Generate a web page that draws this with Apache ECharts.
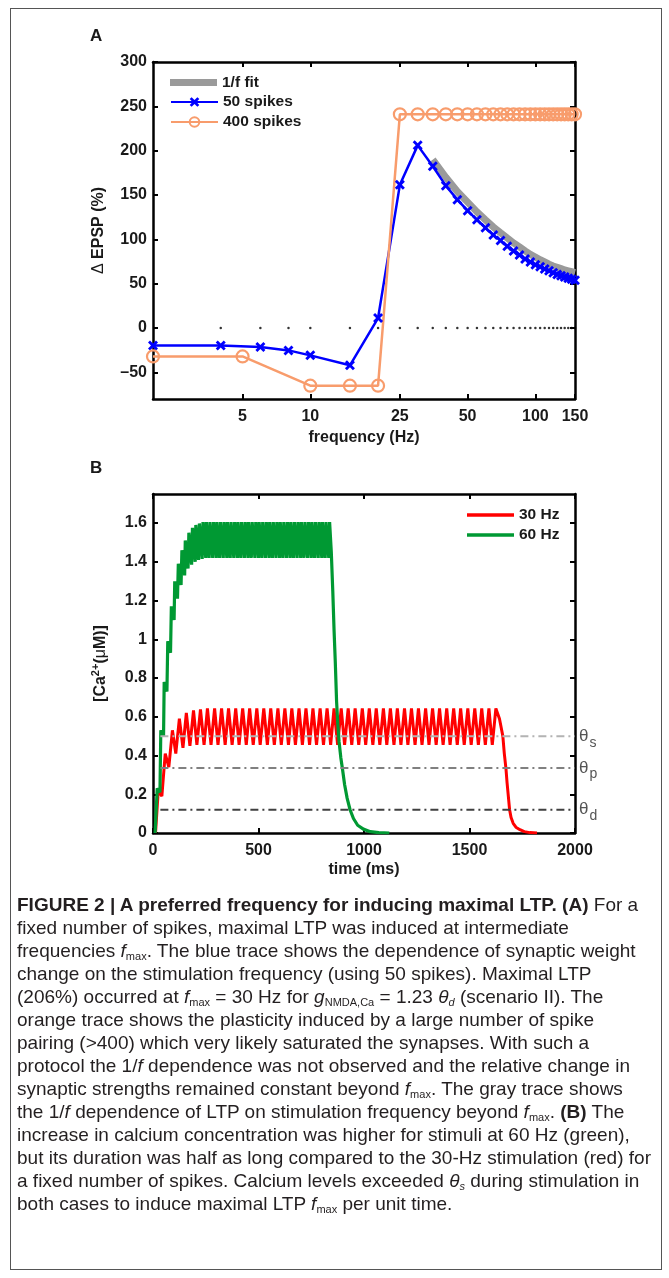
<!DOCTYPE html>
<html><head><meta charset="utf-8">
<script src="https://cdn.jsdelivr.net/npm/echarts@6/dist/echarts.min.js"></script>
<style>
html,body{margin:0;padding:0;background:#fff;}
#frame{position:absolute;left:10px;top:8px;width:652px;height:1262px;border:1px solid #555;box-sizing:border-box;}
#chart{position:absolute;left:0;top:0;width:669px;height:900px;}
#caption{position:absolute;left:17px;top:893px;font-family:"Liberation Sans",Arial,sans-serif;font-size:19px;line-height:23px;color:#231f20;white-space:nowrap;transform-origin:0 0;}
#caption sub{font-size:11px;vertical-align:-3px;line-height:0;}
#caption b{font-weight:bold;}
</style></head>
<body>
<div id="frame"></div>
<div id="chart"></div>
<div id="caption">
<b>FIGURE 2 | A preferred frequency for inducing maximal LTP. (A)</b> For a<br>
fixed number of spikes, maximal LTP was induced at intermediate<br>
frequencies <i>f</i><sub>max</sub>. The blue trace shows the dependence of synaptic weight<br>
change on the stimulation frequency (using 50 spikes). Maximal LTP<br>
(206%) occurred at <i>f</i><sub>max</sub> = 30 Hz for <i>g</i><sub>NMDA,Ca</sub> = 1.23 <i>θ</i><sub><i>d</i></sub> (scenario II). The<br>
orange trace shows the plasticity induced by a large number of spike<br>
pairing (&gt;400) which very likely saturated the synapses. With such a<br>
protocol the 1/<i>f</i> dependence was not observed and the relative change in<br>
synaptic strengths remained constant beyond <i>f</i><sub>max</sub>. The gray trace shows<br>
the 1/<i>f</i> dependence of LTP on stimulation frequency beyond <i>f</i><sub>max</sub>. <b>(B)</b> The<br>
increase in calcium concentration was higher for stimuli at 60 Hz (green),<br>
but its duration was half as long compared to the 30-Hz stimulation (red) for<br>
a fixed number of spikes. Calcium levels exceeded <i>θ</i><sub><i>s</i></sub> during stimulation in<br>
both cases to induce maximal LTP <i>f</i><sub>max</sub> per unit time.
</div>
<script>
// ---------- Panel A data ----------
const freqTicks = [5, 10, 25, 50, 100, 150];
const epspTicks = [-50, 0, 50, 100, 150, 200, 250, 300];
const blueFreq = [2, 4, 6, 8, 10, 15, 20, 25, 30, 35, 40, 45, 50, 55, 60, 65, 70, 75, 80, 85, 90, 95, 100, 105, 110, 115, 120, 125, 130, 135, 140, 145, 150];
const blueEpsp = [-19.6, -19.6, -21.4, -25.2, -30.8, -42, 11.3, 161.5, 206, 182.4, 160.6, 144.8, 132.4, 122, 113, 105, 98.7, 92.3, 87, 82.5, 78, 74.5, 71.5, 69, 66.5, 64.5, 62.5, 60.5, 59, 57.5, 56.2, 55, 54];
const orangeFreq = [2, 5, 10, 15, 20, 25, 30, 35, 40, 45, 50, 55, 60, 65, 70, 75, 80, 85, 90, 95, 100, 105, 110, 115, 120, 125, 130, 135, 140, 145, 150];
const orangeEpsp = [-32, -32, -65, -65, -65, 241, 241, 241, 241, 241, 241, 241, 241, 241, 241, 241, 241, 241, 241, 241, 241, 241, 241, 241, 241, 241, 241, 241, 241, 241, 241];
const fitFreq = [35, 40, 45, 50, 55, 60, 65, 70, 75, 80, 85, 90, 95, 100, 105, 110, 115, 120, 125, 130, 135, 140, 145, 150];
const fitEpsp = [190, 170, 154, 142, 131, 122, 114, 107.5, 101.5, 96, 91.5, 87, 83, 80, 77, 74.5, 72, 70, 68.5, 67, 65.5, 64.5, 63.5, 62.5];
const zeroFreq = [4, 6, 8, 10, 15, 20, 25, 30, 35, 40, 45, 50, 55, 60, 65, 70, 75, 80, 85, 90, 95, 100, 105, 110, 115, 120, 125, 130, 135, 140, 145, 150];

// ---------- Panel B data ----------
const timeTicks = [0, 500, 1000, 1500, 2000];
const caTicks = [0, 0.2, 0.4, 0.6, 0.8, 1, 1.2, 1.4, 1.6];
const redTime = [12, 25, 42, 58, 75, 92, 108, 125, 142, 158, 175, 192, 208, 225, 242, 258, 275, 292, 308, 325, 342, 358, 375, 392, 408, 425, 442, 458, 475, 492, 508, 525, 542, 558, 575, 592, 608, 625, 642, 658, 675, 692, 708, 725, 742, 758, 775, 792, 808, 825, 842, 858, 875, 892, 908, 925, 942, 958, 975, 992, 1008, 1025, 1042, 1058, 1075, 1092, 1108, 1125, 1142, 1158, 1175, 1192, 1208, 1225, 1242, 1258, 1275, 1292, 1308, 1325, 1342, 1358, 1375, 1392, 1408, 1425, 1442, 1458, 1475, 1492, 1508, 1525, 1542, 1558, 1575, 1592, 1608, 1625, 1642, 1658, 1665, 1673, 1678, 1684, 1690, 1697, 1707, 1720, 1739, 1760, 1786, 1820, 1860, 1900];
const redCa = [0, 0.22, 0.19, 0.41, 0.34, 0.53, 0.41, 0.59, 0.44, 0.62, 0.45, 0.633, 0.455, 0.638, 0.455,
  0.643, 0.455, 0.643, 0.455, 0.643, 0.455, 0.643, 0.455, 0.643, 0.455, 0.643, 0.455, 0.643, 0.455,
  0.643, 0.455, 0.643, 0.455, 0.643, 0.455, 0.643, 0.455, 0.643, 0.455, 0.643, 0.455, 0.643, 0.455,
  0.643, 0.455, 0.643, 0.455, 0.643, 0.455, 0.643, 0.455, 0.643, 0.455, 0.643, 0.455, 0.643, 0.455,
  0.643, 0.455, 0.643, 0.455, 0.643, 0.455, 0.643, 0.455, 0.643, 0.455, 0.643, 0.455, 0.643, 0.455,
  0.643, 0.455, 0.643, 0.455, 0.643, 0.455, 0.643, 0.455, 0.643, 0.455, 0.643, 0.455, 0.643, 0.455,
  0.643, 0.455, 0.643, 0.455, 0.643, 0.455, 0.643, 0.455, 0.643, 0.455, 0.643, 0.455,
  0.643, 0.59, 0.5, 0.41, 0.33, 0.26, 0.19, 0.12, 0.08, 0.05, 0.03, 0.017, 0.007, 0.002, 0];
const greenTime = [10, 20, 33, 37, 50, 53, 66, 70, 83, 87, 100, 103, 116, 120, 133, 137, 150, 153, 166, 170, 183, 187, 200, 203, 216, 220, 233, 237, 250, 253, 266, 270, 283, 287, 300, 303, 316, 320, 333, 337, 350, 353, 366, 370, 383, 387, 400, 403, 416, 420, 433, 437, 450, 453, 466, 470, 483, 487, 500, 503, 516, 520, 533, 537, 550, 553, 566, 570, 583, 587, 600, 603, 616, 620, 633, 637, 650, 653, 666, 670, 683, 687, 700, 703, 716, 720, 733, 737, 750, 753, 766, 770, 783, 787, 800, 803, 816, 820, 833, 837, 845, 852, 858, 864, 870, 876, 882, 890, 898, 908, 920, 934, 950, 970, 997, 1030, 1070, 1120];
const greenCa = [0, 0.23, 0.21, 0.53, 0.50, 0.78, 0.73, 0.99, 0.93, 1.17, 1.10, 1.30, 1.21, 1.39, 1.28, 1.46, 1.33, 1.51, 1.365, 1.55, 1.385, 1.575, 1.40, 1.59, 1.41, 1.598, 1.415,
  1.605, 1.42, 1.605, 1.42, 1.605, 1.42, 1.605, 1.42, 1.605, 1.42, 1.605, 1.42, 1.605, 1.42, 1.605, 1.42, 1.605, 1.42,
  1.605, 1.42, 1.605, 1.42, 1.605, 1.42, 1.605, 1.42, 1.605, 1.42, 1.605, 1.42, 1.605, 1.42, 1.605, 1.42, 1.605, 1.42,
  1.605, 1.42, 1.605, 1.42, 1.605, 1.42, 1.605, 1.42, 1.605, 1.42, 1.605, 1.42, 1.605, 1.42, 1.605, 1.42, 1.605, 1.42,
  1.605, 1.42, 1.605, 1.42, 1.605, 1.42, 1.605, 1.42, 1.605, 1.42, 1.605, 1.42, 1.605, 1.42, 1.605, 1.42, 1.605, 1.42,
  1.605, 1.45, 1.25, 1.05, 0.88, 0.68, 0.56, 0.47, 0.39, 0.33, 0.25, 0.18, 0.12, 0.075, 0.04, 0.02, 0.007, 0.002, 0];
const thetaLabels = ['s', 'p', 'd'];
const thetaValues = [0.5, 0.335, 0.12];
const thetaTime = [35, 2000];

// ---------- styles ----------
const FF = '"Liberation Sans", Arial, Helvetica, sans-serif';
const TXT = '#1a1a1a';
const ORANGE = '#F89C6C';
const BLUE = '#0000FF';
const GRAYFIT = '#9a9a9a';
const RED = '#FF0000';
const GREEN = '#009933';
const thetaColors = ['#b3b3b3', '#808080', '#404040'];
const XPATH = 'path://M2,0L5,3L8,0L10,2L7,5L10,8L8,10L5,7L2,10L0,8L3,5L0,2Z';

const pairs = (xs, ys) => xs.map((x, i) => [x, ys[i]]);
const lineAx = {show: true, onZero: false, lineStyle: {color: '#000', width: 2.5}};
const tick = (vals) => ({show: true, inside: true, length: 5, lineStyle: {color: '#000', width: 2}, customValues: vals});
const lbl = (vals, extra) => Object.assign({show: true, customValues: vals, fontSize: 16, fontWeight: 'bold', color: TXT, fontFamily: FF, formatter: v => String(v)}, extra || {});
const nameStyle = {fontSize: 16, fontWeight: 'bold', color: TXT, fontFamily: FF};
const legText = {fontSize: 15.5, fontWeight: 'bold', color: TXT, fontFamily: FF};

const chart = echarts.init(document.getElementById('chart'), null, {renderer: 'canvas'});
const option = {
  animation: false,
  backgroundColor: 'transparent',
  grid: [
    {left: 153, top: 62, width: 422, height: 337},
    {left: 153, top: 494, width: 422, height: 339}
  ],
  xAxis: [
    {gridIndex: 0, type: 'log', logBase: 10, min: 2, max: 150, position: 'bottom',
     axisLine: lineAx, axisTick: tick(freqTicks), axisLabel: lbl(freqTicks, {margin: 10}), splitLine: {show: false},
     name: 'frequency (Hz)', nameLocation: 'middle', nameGap: 31, nameTextStyle: nameStyle},
    {gridIndex: 0, type: 'log', logBase: 10, min: 2, max: 150, position: 'top',
     axisLine: lineAx, axisTick: tick(freqTicks), axisLabel: {show: false}, splitLine: {show: false}},
    {gridIndex: 1, type: 'value', min: 0, max: 2000, position: 'bottom',
     axisLine: lineAx, axisTick: tick(timeTicks), axisLabel: lbl(timeTicks, {margin: 10}), splitLine: {show: false},
     name: 'time (ms)', nameLocation: 'middle', nameGap: 29, nameTextStyle: nameStyle},
    {gridIndex: 1, type: 'value', min: 0, max: 2000, position: 'top',
     axisLine: lineAx, axisTick: tick(timeTicks), axisLabel: {show: false}, splitLine: {show: false}}
  ],
  yAxis: [
    {gridIndex: 0, type: 'value', min: -80, max: 300, position: 'left',
     axisLine: lineAx, axisTick: tick(epspTicks),
     axisLabel: lbl(epspTicks, {margin: 6, formatter: v => (v < 0 ? '\u2013' + Math.abs(v) : String(v))}),
     splitLine: {show: false},
     name: '{d|\u0394} EPSP (%)', nameLocation: 'middle', nameGap: 46, nameRotate: 90,
     nameTextStyle: Object.assign({}, nameStyle, {rich: {d: {fontSize: 16, fontWeight: 'normal', color: TXT, fontFamily: FF}}})},
    {gridIndex: 0, type: 'value', min: -80, max: 300, position: 'right',
     axisLine: lineAx, axisTick: tick(epspTicks), axisLabel: {show: false}, splitLine: {show: false}},
    {gridIndex: 1, type: 'value', min: 0, max: 1.75, position: 'left',
     axisLine: lineAx, axisTick: tick(caTicks), axisLabel: lbl(caTicks, {margin: 6}), splitLine: {show: false},
     name: '[Ca{sup|2+}({mu|\u03BC}M)]', nameLocation: 'middle', nameGap: 42, nameRotate: 90,
     nameTextStyle: Object.assign({}, nameStyle, {rich: {
       sup: {fontSize: 11, fontWeight: 'bold', color: TXT, fontFamily: FF, padding: [0, 0, 10, 0]},
       mu: {fontSize: 16, fontWeight: 'normal', color: TXT, fontFamily: FF}}})},
    {gridIndex: 1, type: 'value', min: 0, max: 1.75, position: 'right',
     axisLine: lineAx, axisTick: tick(caTicks), axisLabel: {show: false}, splitLine: {show: false}}
  ],
  legend: [
    {data: ['1/f fit'], icon: 'rect', orient: 'vertical', left: 170, top: 74.5, padding: 0,
     itemWidth: 47, itemHeight: 7, textStyle: legText},
    {data: ['50 spikes', '400 spikes'], orient: 'vertical', left: 170, top: 94, padding: 0,
     itemWidth: 47, itemHeight: 12, itemGap: 4, textStyle: legText},
    {data: ['30 Hz', '60 Hz'], icon: 'rect', orient: 'vertical', left: 467, top: 507, padding: 0,
     itemWidth: 47, itemHeight: 3.5, itemGap: 4, textStyle: legText}
  ],
  graphic: [
    {type: 'text', left: 90, top: 28, style: {text: 'A', font: 'bold 17px "Liberation Sans", Arial', fill: TXT}},
    {type: 'text', left: 90, top: 460, style: {text: 'B', font: 'bold 17px "Liberation Sans", Arial', fill: TXT}}
  ],
  series: [
    {type: 'line', name: '1/f fit', xAxisIndex: 0, yAxisIndex: 0, data: pairs(fitFreq, fitEpsp), symbol: 'none',
     lineStyle: {color: GRAYFIT, width: 7}, itemStyle: {color: GRAYFIT}},
    {type: 'scatter', name: 'zero', xAxisIndex: 0, yAxisIndex: 0, data: zeroFreq.map(f => [f, 0]),
     symbolSize: 2.5, itemStyle: {color: '#000'}, silent: true},
    {type: 'line', name: '50 spikes', xAxisIndex: 0, yAxisIndex: 0, data: pairs(blueFreq, blueEpsp),
     symbol: XPATH, symbolSize: 10, lineStyle: {color: BLUE, width: 2.5}, itemStyle: {color: BLUE}},
    {type: 'line', name: '400 spikes', xAxisIndex: 0, yAxisIndex: 0, data: pairs(orangeFreq, orangeEpsp),
     symbol: 'circle', symbolSize: 12, lineStyle: {color: ORANGE, width: 2.5},
     itemStyle: {color: 'rgba(255,255,255,0)', borderColor: ORANGE, borderWidth: 2.2}},
    {type: 'line', name: '30 Hz', xAxisIndex: 2, yAxisIndex: 2, data: pairs(redTime, redCa), symbol: 'none',
     lineStyle: {color: RED, width: 3}, itemStyle: {color: RED}},
    {type: 'line', name: '60 Hz', xAxisIndex: 2, yAxisIndex: 2, data: pairs(greenTime, greenCa), symbol: 'none',
     lineStyle: {color: GREEN, width: 3.2}, itemStyle: {color: GREEN}}
  ].concat(thetaValues.map((v, i) => ({
    type: 'line', name: 'theta' + thetaLabels[i], xAxisIndex: 2, yAxisIndex: 2,
    data: thetaTime.map(t => [t, v]), symbol: 'none', silent: true,
    lineStyle: {color: thetaColors[i], width: 2, type: [8, 4, 2, 4]},
    endLabel: {show: true, distance: 4, formatter: () => '{t|\u03B8}{s|' + thetaLabels[i] + '}',
      rich: {t: {fontSize: 17, color: '#555', fontFamily: FF},
             s: {fontSize: 14, color: '#555', fontFamily: FF, padding: [13, 0, 0, 1]}}}
  })))
};
chart.setOption(option);

// fit caption width to the reference column (longest line ends near x = 651)
const cap = document.getElementById('caption');
const w = cap.getBoundingClientRect().width;
cap.style.transform = 'scaleX(' + (634 / w) + ')';
</script>
</body></html>
